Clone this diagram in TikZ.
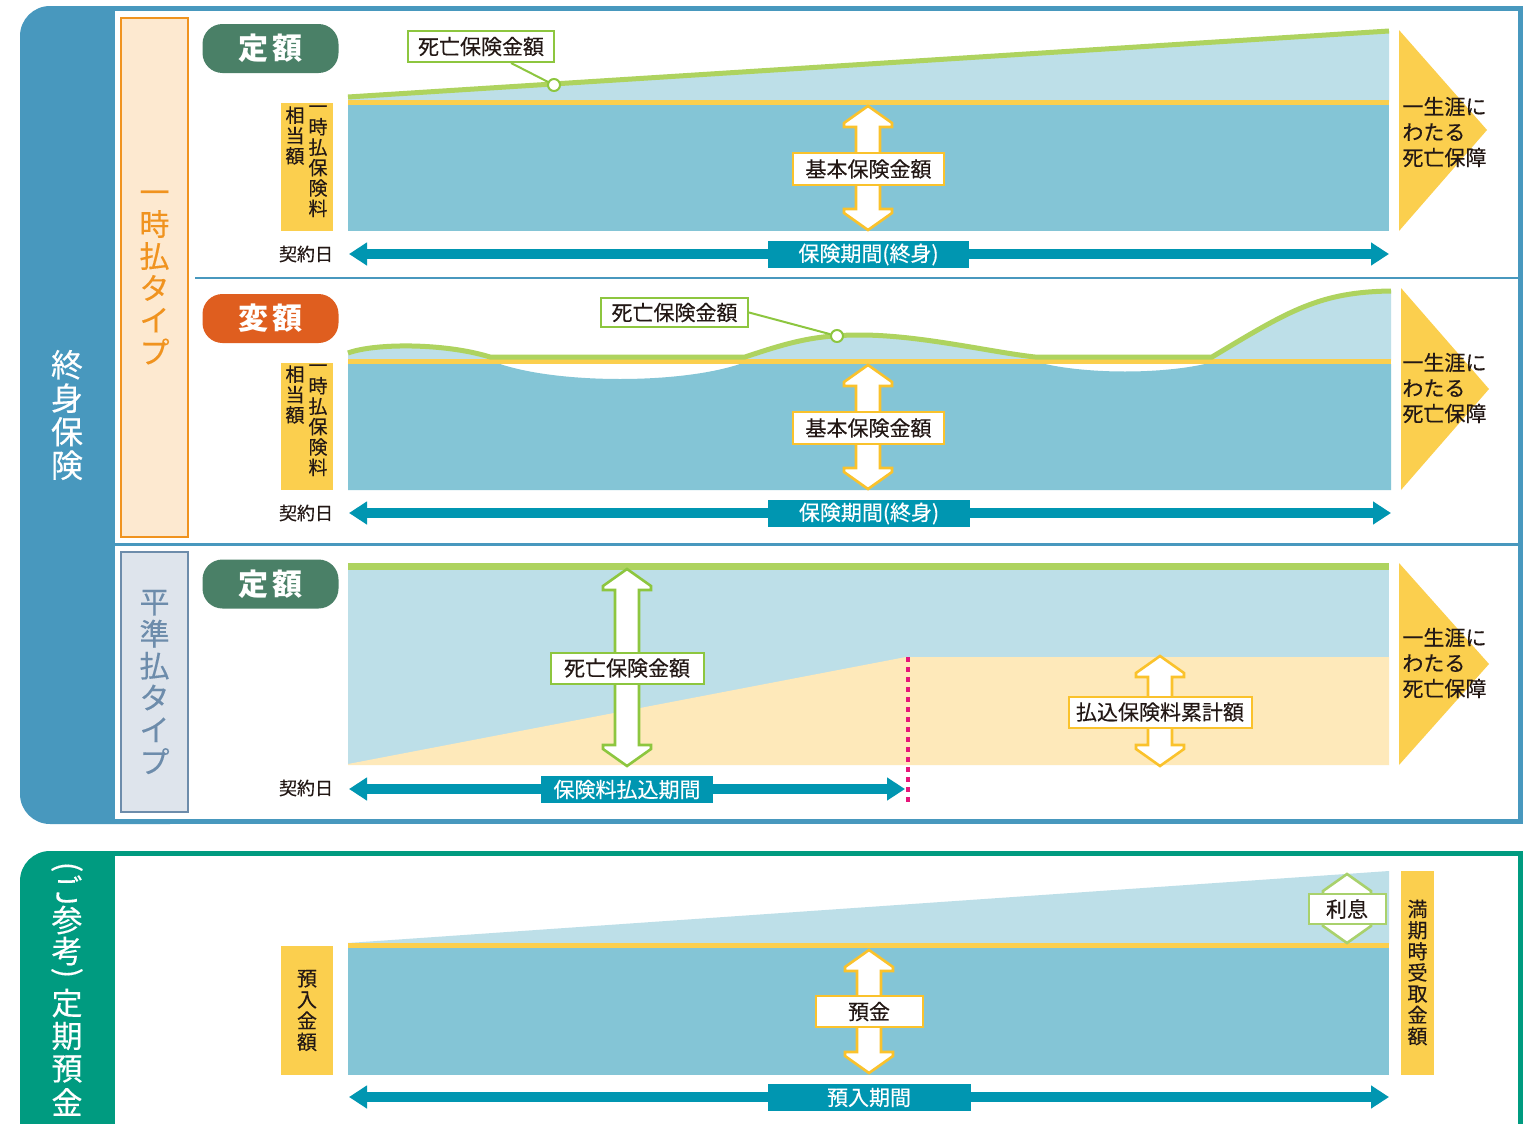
\documentclass[tikz,border=0pt]{standalone}
\usepackage{fontspec}
\setmainfont{Noto Sans CJK JP}[UprightFeatures={FakeBold=0.3}]
\usepackage{tikz}
\usetikzlibrary{arrows.meta}
\usetikzlibrary{positioning}

\definecolor{frameblue}{HTML}{4898BE}
\definecolor{framegreen}{HTML}{009B80}
\definecolor{skyblue}{HTML}{BDDFE8}
\definecolor{seablue}{HTML}{84C5D6}
\definecolor{gold}{HTML}{FBCF4E}
\definecolor{goldline}{HTML}{FAC22C}
\definecolor{lime}{HTML}{AED35F}
\definecolor{limeline}{HTML}{8DC63F}
\definecolor{sprout}{HTML}{A9D16C}
\definecolor{periodteal}{HTML}{0096B1}
\definecolor{peach}{HTML}{FEE9BA}
\definecolor{ochre}{HTML}{F0931F}
\definecolor{apricot}{HTML}{FDE9D0}
\definecolor{slate}{HTML}{6D8CAB}
\definecolor{mist}{HTML}{DEE4EC}
\definecolor{pinegreen}{HTML}{4A8067}
\definecolor{rust}{HTML}{DF5E1F}
\definecolor{hotpink}{HTML}{E6157A}
\definecolor{ink}{HTML}{231815}

\tikzset{
	pill/.style={rounded corners=10pt, minimum width=68pt, minimum height=24.5pt, inner sep=0pt, text=white, font=\fontsize{15}{15}\selectfont\bfseries},
	tagbox/.style={draw, fill=white, line width=1pt, inner sep=0pt, text=ink, font=\fontsize{10.5}{12}\selectfont},
	periodtag/.style={fill=periodteal, inner sep=0pt, minimum height=13.5pt, text=white, font=\fontsize{10.5}{12}\selectfont},
	period/.style={draw=periodteal, line width=5pt, arrows={Triangle[length=9pt,width=11pt]-Triangle[length=9pt,width=11pt]}},
	fat/.style={fill=white, line width=1.3pt, line join=miter},
	pindot/.style={circle, draw=limeline, fill=white, line width=1pt, minimum size=6pt, inner sep=0pt},
	leader/.style={draw=limeline, line width=1pt},
	goldbox/.style={fill=gold, inner sep=0pt, align=center, text=ink, font=\fontsize{10}{10.6}\selectfont},
	tatetext/.style={align=center, inner sep=0pt, text=ink, font=\fontsize{9.5}{10.2}\selectfont},
	chevtext/.style={align=left, anchor=west, inner sep=0pt, text=ink, font=\fontsize{10.5}{12.75}\selectfont},
	datetext/.style={inner sep=0pt, text=ink, font=\fontsize{9}{10}\selectfont},
	tabtext/.style={align=center, inner sep=0pt, text=white, font=\fontsize{16}{16.75}\selectfont},
	tabchar/.style={inner sep=0pt, text=white, font=\fontsize{15.5}{15.5}\selectfont},
	typebox/.style={line width=1pt, minimum width=33.5pt, inner sep=0pt, align=center, font=\fontsize{15}{16}\selectfont},
	cutoff/.style={draw=hotpink, line width=2pt, dash pattern=on 2.5pt off 2.5pt},
}

% white double arrow with coloured rim: colour, x, top y, bottom y
\newcommand{\fatarrow}[4]{%
	\draw[fat, draw=#1] (#2,#3) -- ++(24,17) -- ++(0,4) -- ++(-12,0)
	-- ({#2+12},{#4-21}) -- ++(12,0) -- ++(0,4) -- (#2,#4)
	-- ++(-24,-17) -- ++(0,-4) -- ++(12,0)
	-- ({#2-12},{#3+21}) -- ++(-12,0) -- ++(0,-4) -- cycle;}

\begin{document}
\begin{tikzpicture}[x=0.5pt, y=-0.5pt]
	\useasboundingbox (0,0) rectangle (1526,1124);

	% frames
	\fill[frameblue, rounded corners=15pt] (20,6) rectangle (200,824);
	\fill[frameblue] (100,6) rectangle (1523,824);
	\fill[white] (115,11) rectangle (1518,819);
	\fill[framegreen, rounded corners=15pt] (20,851) rectangle (200,1200);
	\fill[framegreen] (100,851) rectangle (1523,1200);
	\fill[white] (115,856) rectangle (1518,1200);
	\draw[frameblue, line width=0.75pt] (195,278) -- (1518,278);
	\draw[frameblue, line width=1.5pt] (115,544.5) -- (1518,544.5);

	\node[tabtext] (lifetab) at (67,415) {終\\身\\保\\険};
	\node[tabchar, rotate=-90] (depositL) at (67,867) {(};
	\foreach \ch/\y/\n in {ご/889/1, 参/920/2, 考/951/3, 定/1003/4, 期/1036/5, 預/1069/6, 金/1102/7}
		\node[tabchar] (deposit\n) at (67,\y) {\ch};
	\node[tabchar, rotate=-90] (depositR) at (67,973) {)};
	\node[typebox, draw=ochre, fill=apricot, text=ochre, minimum height=259.5pt] (lumptype) at (154.5,277.5) {一\\時\\払\\タ\\イ\\プ};
	\node[typebox, draw=slate, fill=mist, text=slate, minimum height=130pt] (leveltype) at (154.5,682) {平\\準\\払\\タ\\イ\\プ};

	% fixed, single premium
	\fill[skyblue] (348,97) -- (1389,31) -- (1389,102) -- (348,102) -- cycle;
	\fill[seablue] (348,104) rectangle (1389,231);
	\draw[gold, line width=2.5pt] (348,102) -- (1389,102);
	\draw[lime, line width=2.5pt] (348,97) -- (1389,31);
	\fill[gold] (1399,30) -- (1487,130) -- (1399,231) -- cycle;
	\node[chevtext] (lifelongA) at (1402,132) {一生涯に\\わたる\\死亡保障};
	\node[pill, fill=pinegreen] (fixedA) at (270.5,48.5) {定\hspace{2pt}額};
	\node[tagbox, draw=limeline, minimum width=73pt, minimum height=15.5pt] (deathA) at (481,46.5) {死亡保険金額};
	\node[pindot] (dotA) at (554,85) {};
	\draw[leader] ([xshift=15pt]deathA.south) -- (dotA);
	\node[goldbox, minimum width=26pt, minimum height=64pt] (lumpA) at (307,167) {};
	\node[tatetext, anchor=north] (lumpAr) at (318,105) {一\\時\\払\\保\\険\\料};
	\node[tatetext, anchor=north] (lumpAl) at (295,106) {相\\当\\額};
	\fatarrow{goldline}{868}{106}{230}
	\node[tagbox, draw=goldline, minimum width=75.5pt, minimum height=16pt] (baseA) at (868.5,169) {基本保険金額};
	\node[datetext] (dateA) at (306,254) {契約日};
	\coordinate (startA) at (349,254);
	\coordinate (endA) at (1389,254);
	\draw[period] (startA) -- (endA);
	\node[periodtag, minimum width=100.5pt] (termA) at (868.5,254.5) {保険期間(終身)};

	% variable, single premium
	\fill[skyblue] (348,361) -- (348,353) .. controls (375,343) and (445,343) .. (490,357) -- (745,357)
		.. controls (790,342) and (815,335) .. (860,335) .. controls (920,335) and (990,352) .. (1035,357)
		-- (1212,357) .. controls (1290,310) and (1320,292) .. (1391,291) -- (1391,361) -- cycle;
	\fill[seablue] (348,364) -- (500,364) .. controls (560,384) and (680,384) .. (740,364) -- (1045,364)
		.. controls (1090,374) and (1160,374) .. (1205,364) -- (1391,364) -- (1391,490) -- (348,490) -- cycle;
	\draw[gold, line width=2.5pt] (348,361) -- (1391,361);
	\draw[lime, line width=2.5pt] (348,353) .. controls (375,343) and (445,343) .. (490,357) -- (745,357)
		.. controls (790,342) and (815,335) .. (860,335) .. controls (920,335) and (990,352) .. (1035,357)
		-- (1212,357) .. controls (1290,310) and (1320,292) .. (1391,291);
	\fill[gold] (1401,288) -- (1489,389) -- (1401,490) -- cycle;
	\node[chevtext] (lifelongB) at (1402,388) {一生涯に\\わたる\\死亡保障};
	\node[pill, fill=rust] (variableB) at (270.5,318.5) {変\hspace{2pt}額};
	\node[tagbox, draw=limeline, minimum width=73.5pt, minimum height=14.5pt] (deathB) at (674.5,312.5) {死亡保険金額};
	\node[pindot] (dotB) at (837,336) {};
	\draw[leader] (deathB.east) -- (dotB);
	\node[goldbox, minimum width=26pt, minimum height=63.5pt] (lumpB) at (307,426.5) {};
	\node[tatetext, anchor=north] (lumpBr) at (318,364) {一\\時\\払\\保\\険\\料};
	\node[tatetext, anchor=north] (lumpBl) at (295,365) {相\\当\\額};
	\fatarrow{goldline}{868}{365}{489}
	\node[tagbox, draw=goldline, minimum width=75.5pt, minimum height=16pt] (baseB) at (868.5,428) {基本保険金額};
	\node[datetext] (dateB) at (306,513) {契約日};
	\coordinate (startB) at (349,513);
	\coordinate (endB) at (1391,513);
	\draw[period] (startB) -- (endB);
	\node[periodtag, minimum width=101pt] (termB) at (869,513.5) {保険期間(終身)};

	% fixed, level premium
	\fill[skyblue] (348,569) rectangle (1389,765);
	\fill[peach] (348,764) -- (906,657) -- (1389,657) -- (1389,765) -- (348,765) -- cycle;
	\draw[lime, line width=3.5pt] (348,566.5) -- (1389,566.5);
	\fill[gold] (1399,563) -- (1489,664) -- (1399,765) -- cycle;
	\node[chevtext] (lifelongC) at (1402,663) {一生涯に\\わたる\\死亡保障};
	\node[pill, fill=pinegreen] (fixedC) at (270.5,584) {定\hspace{2pt}額};
	\fatarrow{limeline}{627}{569}{766}
	\node[tagbox, draw=limeline, minimum width=76.5pt, minimum height=15.5pt] (deathC) at (627,668) {死亡保険金額};
	\fatarrow{goldline}{1160}{656}{766}
	\node[tagbox, draw=goldline, minimum width=91.5pt, minimum height=15.5pt] (sumC) at (1160,712) {払込保険料累計額};
	\node[datetext] (dateC) at (306,788) {契約日};
	\coordinate (startC) at (349,789);
	\coordinate (endC) at (905,789);
	\draw[period] (startC) -- (endC);
	\node[periodtag, minimum width=86pt] (termC) at (627,789.5) {保険料払込期間};
	\coordinate (cutTop) at (908,657);
	\coordinate (cutBottom) at (908,802);
	\draw[cutoff] (cutTop) -- (cutBottom);

	% time deposit
	\fill[skyblue] (348,943) -- (1389,871) -- (1389,944) -- (348,944) -- cycle;
	\fill[seablue] (348,948) rectangle (1389,1075);
	\draw[gold, line width=2.5pt] (348,945.5) -- (1389,945.5);
	\node[goldbox, minimum width=26pt, minimum height=64.5pt] (amountD) at (307,1010.5) {預\\入\\金\\額};
	\node[goldbox, minimum width=16.5pt, minimum height=102pt] (maturityD) at (1417.5,972.5) {満\\期\\時\\受\\取\\金\\額};
	\fatarrow{goldline}{869}{950}{1073}
	\node[tagbox, draw=goldline, minimum width=53.5pt, minimum height=15.5pt] (depositD) at (869,1011.5) {預金};
	\fatarrow{sprout}{1347}{874}{943}
	\node[tagbox, draw=sprout, minimum width=38.5pt, minimum height=15pt] (interestD) at (1347,909) {利息};
	\coordinate (startD) at (349,1097);
	\coordinate (endD) at (1389,1097);
	\draw[period] (startD) -- (endD);
	\node[periodtag, minimum width=101.5pt] (termD) at (869,1097.5) {預入期間};
\end{tikzpicture}
\end{document}
